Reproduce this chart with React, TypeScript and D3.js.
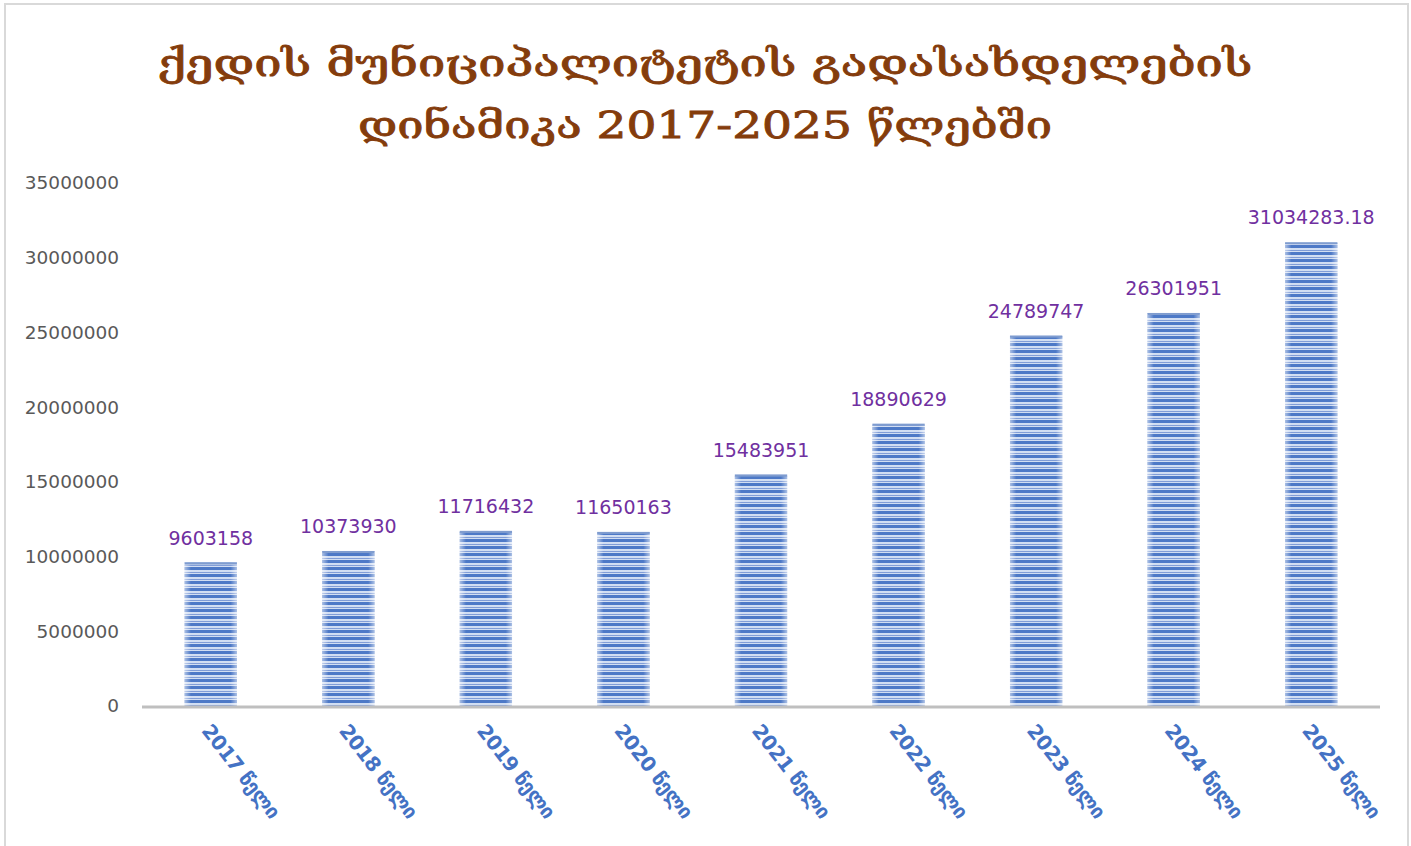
import React, { useEffect, useRef } from "react";
import * as d3 from "d3";

const titleLines = ["ქედის მუნიციპალიტეტის გადასახდელების", "დინამიკა 2017-2025 წლებში"];
const categories = ["2017 წელი", "2018 წელი", "2019 წელი", "2020 წელი", "2021 წელი", "2022 წელი", "2023 წელი", "2024 წელი", "2025 წელი"];
const values = [9603158, 10373930, 11716432, 11650163, 15483951, 18890629, 24789747, 26301951, 31034283.18];
const valueLabels = ["9603158", "10373930", "11716432", "11650163", "15483951", "18890629", "24789747", "26301951", "31034283.18"];
const yTicks = [0, 5000000, 10000000, 15000000, 20000000, 25000000, 30000000, 35000000];

const W = 1411;
const H = 846;

export default function App() {
  const ref = useRef<SVGSVGElement | null>(null);

  useEffect(() => {
    const svg = d3.select(ref.current);
    svg.selectAll("*").remove();

    const defs = svg.append("defs");
    const pat = defs
      .append("pattern")
      .attr("id", "stripes")
      .attr("patternUnits", "userSpaceOnUse")
      .attr("width", 10)
      .attr("height", 7);
    pat.append("rect").attr("width", 10).attr("height", 7).attr("fill", "#cfdcf2");
    pat.append("rect").attr("y", 0).attr("width", 10).attr("height", 3).attr("fill", "#4472c4");
    pat.append("rect").attr("y", 5).attr("width", 10).attr("height", 1).attr("fill", "#7a98d5");

    const grad = defs.append("linearGradient").attr("id", "glow").attr("x1", "0").attr("x2", "1").attr("y1", "0").attr("y2", "0");
    grad.append("stop").attr("offset", "0").attr("stop-color", "#ffffff").attr("stop-opacity", 0.55);
    grad.append("stop").attr("offset", "0.12").attr("stop-color", "#ffffff").attr("stop-opacity", 0.05);
    grad.append("stop").attr("offset", "0.88").attr("stop-color", "#ffffff").attr("stop-opacity", 0.05);
    grad.append("stop").attr("offset", "1").attr("stop-color", "#ffffff").attr("stop-opacity", 0.55);

    // chart border
    svg
      .append("rect")
      .attr("x", 5)
      .attr("y", 4)
      .attr("width", 1403)
      .attr("height", 860)
      .attr("fill", "#ffffff")
      .attr("stroke", "#d9d9d9")
      .attr("stroke-width", 2);

    // title
    const titleWidths = [1095, 694];
    titleLines.forEach((t, i) => {
      svg
        .append("text")
        .attr("x", 705)
        .attr("y", 76 + i * 62)
        .attr("text-anchor", "middle")
        .attr("font-family", "'DejaVu Serif', serif")
        .attr("font-weight", "normal")
        .attr("font-size", 38)
        .attr("fill", "#843c0c")
        .attr("stroke", "#843c0c")
        .attr("stroke-width", 0.9)
        .attr("textLength", titleWidths[i])
        .attr("lengthAdjust", "spacingAndGlyphs")
        .text(t);
    });

    const x = d3.scaleBand<string>().domain(categories).range([142, 1380]).paddingInner(0.62).paddingOuter(0.31);
    const y = d3.scaleLinear().domain([0, 35000000]).range([706, 183]);

    // y tick labels
    svg
      .append("g")
      .selectAll("text")
      .data(yTicks)
      .join("text")
      .attr("x", 119)
      .attr("y", (d) => y(d))
      .attr("dy", "0.35em")
      .attr("text-anchor", "end")
      .attr("font-family", "'DejaVu Sans', sans-serif")
      .attr("font-size", 18.5)
      .attr("fill", "#595959")
      .text((d) => String(d));

    // bars
    const bars = svg.append("g");
    categories.forEach((c, i) => {
      const bx = x(c)!;
      const by = y(values[i]);
      const bh = y(0) - by;
      bars.append("rect").attr("x", bx).attr("y", by).attr("width", x.bandwidth()).attr("height", bh).attr("fill", "url(#stripes)");
      bars.append("rect").attr("x", bx).attr("y", by).attr("width", x.bandwidth()).attr("height", bh).attr("fill", "url(#glow)");
      bars.append("rect").attr("x", bx).attr("y", by).attr("width", x.bandwidth()).attr("height", 2).attr("fill", "#7f9ccf");
    });

    // axis line
    svg
      .append("line")
      .attr("x1", 142)
      .attr("x2", 1380)
      .attr("y1", y(0) + 1)
      .attr("y2", y(0) + 1)
      .attr("stroke", "#bfbfbf")
      .attr("stroke-width", 3);

    // value labels
    svg
      .append("g")
      .selectAll("text")
      .data(values)
      .join("text")
      .attr("x", (_, i) => x(categories[i])! + x.bandwidth() / 2)
      .attr("y", (d) => y(d) - 18)
      .attr("text-anchor", "middle")
      .attr("font-family", "'DejaVu Sans', sans-serif")
      .attr("font-size", 19)
      .attr("fill", "#7030a0")
      .text((_, i) => valueLabels[i]);

    // x labels
    svg
      .append("g")
      .selectAll("text")
      .data(categories)
      .join("text")
      .attr("transform", (d) => `translate(${x(d)! + x.bandwidth() / 2 - 10},${731}) rotate(52)`)
      .attr("font-family", "'DejaVu Sans', sans-serif")
      .attr("font-weight", "bold")
      .attr("font-size", 20)
      .attr("letter-spacing", -0.5)
      .attr("fill", "#4472c4")
      .text((d) => d);
  }, []);

  return <svg ref={ref} width={W} height={H} style={{ position: "absolute", left: 0, top: 0, display: "block" }} />;
}
